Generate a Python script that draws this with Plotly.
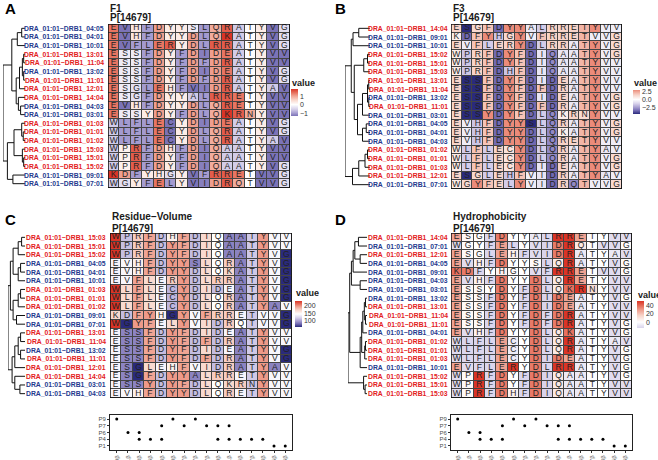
import plotly.graph_objects as go

W, H = 658, 460

# ---------------- data ----------------
POSITIONS = ["9β", "11β", "13β", "26β", "28β", "30β", "47β", "57β",
             "67β", "70β", "71β", "74β", "77β", "78β", "85β", "86β"]

ALLELE_SEQ = {
    "04:05": "EVHFDYYSLQRATYVG",
    "04:01": "EVHFDYYDLQKATYVG",
    "10:01": "EVFLERYDLRRATYVG",
    "13:01": "ESSFDYFDIDEATYVV",
    "11:04": "ESSFDYFDFDRATYVV",
    "13:02": "ESSFDYFDIDEATYVG",
    "11:01": "ESSFDYFDFDRATYVG",
    "12:01": "ESGLEHFVIDRATYAV",
    "14:04": "ESGFDYYALRRETYVV",
    "04:03": "EVHFDYYDLQRETYVV",
    "03:01": "ESSYDYFDLQKRNYVV",
    "01:03": "WLFLECYDIDEATYVG",
    "01:01": "WLFLECYDLQRATYVG",
    "01:02": "WLFLECYDLQRATYAV",
    "15:03": "WPRFDHFDIQAATYVV",
    "15:01": "WPRFDYFDIQAATYVV",
    "15:02": "WPRFDYFDIQAATYVG",
    "09:01": "KDFYHGYVFRRETVVG",
    "07:01": "WGYFELYVIDRQTVVG",
}
RED_ALLELES = ["13:01", "11:04", "11:01", "12:01", "14:04", "01:03", "01:01",
               "01:02", "15:03", "15:01", "15:02"]

F1 = {"A": -0.591, "C": -1.343, "D": 1.050, "E": 1.357, "F": -1.006, "G": -0.384,
      "H": 0.336, "I": -1.239, "K": 1.831, "L": -1.019, "N": 0.945, "P": 0.189,
      "Q": 0.931, "R": 1.538, "S": -0.228, "T": -0.032, "V": -1.337, "W": -0.595,
      "Y": 0.260}
F3 = {"A": -0.733, "C": 1.0, "D": -3.656, "E": 1.477, "F": 1.891, "G": 1.330,
      "H": -1.673, "I": -0.8, "K": 0.533, "L": -1.505, "N": 1.299, "P": -1.628,
      "Q": -3.005, "R": 1.502, "S": -4.760, "T": 2.213, "V": -0.544, "W": 0.672,
      "Y": 3.097}
VOLUME = {"A": 88.6, "C": 108.5, "D": 111.1, "E": 138.4, "F": 189.9, "G": 60.1,
          "H": 153.2, "I": 166.7, "K": 168.6, "L": 166.7, "N": 114.1, "P": 112.7,
          "Q": 143.8, "R": 173.4, "S": 89.0, "T": 116.1, "V": 140.0, "W": 227.8,
          "Y": 193.6}
HYDRO = {"A": -7, "C": -6, "D": 36, "E": 28, "F": -13, "G": 1, "H": 5, "I": -14,
         "K": 38, "L": -13, "N": 12, "P": 2, "Q": 8, "R": 50, "S": 2, "T": -1,
         "V": -11, "W": -12, "Y": 0}

ORDER_A = ["04:05", "04:01", "10:01", "13:01", "11:04", "13:02", "11:01", "12:01",
           "14:04", "04:03", "03:01", "01:03", "01:01", "01:02", "15:03", "15:01",
           "15:02", "09:01", "07:01"]
ORDER_B = ["14:04", "09:01", "10:01", "15:02", "15:01", "15:03", "13:01", "11:04",
           "13:02", "11:01", "03:01", "04:05", "04:01", "04:03", "01:02", "01:01",
           "01:03", "12:01", "07:01"]
ORDER_C = ["15:03", "15:01", "15:02", "04:05", "04:01", "10:01", "01:03", "01:01",
           "01:02", "09:01", "07:01", "13:01", "11:04", "13:02", "11:01", "12:01",
           "14:04", "03:01", "04:03"]
ORDER_D = ["14:04", "07:01", "12:01", "04:05", "09:01", "04:03", "03:01", "13:02",
           "13:01", "11:04", "11:01", "04:01", "01:02", "01:01", "01:03", "10:01",
           "15:02", "15:01", "15:03"]

# dendrograms: [height, left, right], leaves = row index
TREE_A = [10, [6.0, [3.5, [1.5, 0, 1], 2],
               [4.0, [2.5, [1.2, [0.6, 3, 4], [0.6, 5, 6]], 7],
                [3.0, 8, [2.0, 9, 10]]]],
          [8.0, [5.0, [1.5, 11, [0.8, 12, 13]], [1.2, 14, [0.6, 15, 16]]],
           [5.5, 17, 18]]]
TREE_B = [10, [7.5, [6.8, [4.5, 0, 1], 2],
               [6.3, [2.5, [1.0, 3, 4], 5],
                [5.0, [3.0, [1.0, [0.5, 6, 7], [0.5, 8, 9]], 10],
                 [3.0, [1.5, 11, 12], 13]]]],
          [7.0, [4.5, [2.0, [1.0, 14, 15], 16], 17], 18]]
TREE_C = [10, [8.6, [7.0, [4.0, [2.0, 0, 1], 2], [4.0, [2.6, 3, 4], 5]],
               [7.0, [4.0, [2.6, 6, 7], 8], [5.0, 9, 10]]],
          [7.6, [6.0, [4.0, [2.6, 11, 12], [2.6, 13, 14]], 15],
           [6.0, 16, [3.0, 17, 18]]]]
TREE_D = [10, [9.1, [8.2, [7.3, [6.4, [4.5, 0, 1], [3.6, 2, 3]], 4], [3.6, 5, 6]],
               [3.6, [2.8, [2.2, [1.4, [0.8, 7, 8], [0.8, 9, 10]], 11],
                      [1.2, [0.8, 12, 13], 14]], 15]],
          [1.8, 16, [1.0, 17, 18]]]

POCKETS = ["P1", "P4", "P6", "P7", "P9"]
POCKET_POS = ["9β", "11β", "13β", "13β", "26β", "28β", "28β", "30β", "47β", "57β",
              "67β", "70β", "70β", "71β", "71β", "74β", "77β", "78β", "85β", "86β"]
POCKET_OF = ["P9", "P6", "P6", "P4", "P4", "P7", "P4", "P9", "P7", "P9",
             "P7", "P7", "P4", "P7", "P4", "P4", "P4", "P4", "P1", "P1"]

# ---------------- style ----------------
# colour ramps from white (t=0) to the extreme (t=1), mimicking a Lab-space blend
LOW_RAMP = [(0.0, (255, 255, 255)), (0.3, (214, 208, 234)), (0.55, (165, 156, 208)),
            (0.75, (118, 110, 180)), (1.0, (42, 42, 124))]
HIGH_RAMP = [(0.0, (255, 255, 255)), (0.3, (248, 214, 204)), (0.55, (240, 164, 148)),
             (0.75, (231, 115, 96)), (1.0, (218, 52, 38))]
RED_TXT, BLUE_TXT = "#e3201c", "#253a8e"
FONT = "Liberation Sans"


def xd(a, b):
    return [a / W, b / W]


def yd(a, b):
    return [1 - b / H, 1 - a / H]


def ramp(r, t):
    t = min(max(t, 0.0), 1.0)
    for (t0, c0), (t1, c1) in zip(r[:-1], r[1:]):
        if t <= t1:
            f = (t - t0) / (t1 - t0)
            return "rgb(%d,%d,%d)" % tuple(round(a + (b - a) * f) for a, b in zip(c0, c1))
    return "rgb(%d,%d,%d)" % r[-1][1]


def scale_for(vmin, vmax, mid):
    M = max(vmax - mid, mid - vmin)
    stops = []
    n = 16
    for i in range(n + 1):
        v = vmin + (mid - vmin) * i / n
        stops.append([(v - vmin) / (vmax - vmin), ramp(LOW_RAMP, (mid - v) / M)])
    for i in range(1, n + 1):
        v = mid + (vmax - mid) * i / n
        stops.append([(v - vmin) / (vmax - vmin), ramp(HIGH_RAMP, (v - mid) / M)])
    stops[-1][0] = 1.0
    stops[0][0] = 0.0
    return stops


def dendro(tree):
    xs, ys = [], []

    def rec(node):
        if isinstance(node, int):
            return float(node), 0.0
        h, l, r = node
        yl, hl = rec(l)
        yr, hr = rec(r)
        xs.extend([hl, h, h, hr, None])
        ys.extend([yl, yl, yr, yr, None])
        return (yl + yr) / 2, h

    rec(tree)
    return xs, ys


panels = [
    dict(letter="A", lx=3, ly=8, title="F1", ty=(8.5, 17.5), prop=F1, order=ORDER_A,
         tree=TREE_A, heat=(108, 290, 24, 188), dend=(3, 25), mid=0,
         cb=(291, 89, 116), vy=83, tv=[1, 0, -1], tt=["1", "0", "−1"], dots=None),
    dict(letter="B", lx=333, ly=8, title="F3", ty=(8.5, 17.5), prop=F3, order=ORDER_B,
         tree=TREE_B, heat=(451, 622, 24, 189), dend=(345, 370), mid=0,
         cb=(633, 90, 114), vy=83, tv=[2.5, 0, -2.5], tt=["2.5", "0.0", "−2.5"], dots=None),
    dict(letter="C", lx=3, ly=219, title="Residue−Volume", ty=(216.5, 228.5), prop=VOLUME,
         order=ORDER_C, tree=TREE_C, heat=(110, 292, 233, 398), dend=(8, 25),
         mid=(min(VOLUME.values()) + max(VOLUME.values())) / 2,
         cb=(295, 301, 327), vy=293, tv=[200, 150, 100], tt=["200", "150", "100"],
         dots=(110, 292, 415, 450)),
    dict(letter="D", lx=333, ly=219, title="Hydrophobicity", ty=(216.5, 228.5), prop=HYDRO,
         order=ORDER_D, tree=TREE_D, heat=(451, 632, 233, 398), dend=(348, 367), mid=0,
         cb=(637, 301, 328), vy=295, tv=[40, 20, 0], tt=["40", "20", "0"],
         dots=(451, 632, 415, 450)),
]

fig = go.Figure()
layout = {}
annotations = []
shapes = []
ax = 0


def new_axes(xdom, ydom, xr, yr, visible=False):
    global ax
    ax += 1
    s = "" if ax == 1 else str(ax)
    layout["xaxis" + s] = dict(domain=xdom, range=xr, anchor="y" + s, visible=visible,
                               fixedrange=True, showgrid=False, zeroline=False)
    layout["yaxis" + s] = dict(domain=ydom, range=yr, anchor="x" + s, visible=visible,
                               fixedrange=True, showgrid=False, zeroline=False)
    return "x" + s, "y" + s


for p in panels:
    x0, x1, y0, y1 = p["heat"]
    nrow, ncol = len(p["order"]), len(POSITIONS)
    rowh = (y1 - y0) / nrow
    xa, ya = new_axes(xd(x0, x1), yd(y0, y1), [-0.5, ncol - 0.5], [nrow - 0.5, -0.5])
    seqs = [ALLELE_SEQ[a] for a in p["order"]]
    z = [[p["prop"][c] for c in s] for s in seqs]
    used = [v for row in z for v in row]
    vmin, vmax = min(used), max(used)
    cb_x, cb_top, cb_bot = p["cb"]
    fig.add_trace(go.Heatmap(
        z=z, x=list(range(ncol)), y=list(range(nrow)), xaxis=xa, yaxis=ya,
        zmin=vmin, zmax=vmax, colorscale=scale_for(vmin, vmax, p["mid"]),
        xgap=1, ygap=1, hoverinfo="skip",
        colorbar=dict(x=cb_x / W, xanchor="left", y=1 - cb_top / H, yanchor="top",
                      len=cb_bot - cb_top, lenmode="pixels", thickness=7,
                      thicknessmode="pixels", xpad=0, ypad=0, outlinewidth=0,
                      tickvals=p["tv"], ticktext=p["tt"], ticks="",
                      tickfont=dict(size=7, family=FONT, color="#333"))))
    tx, ty_, tt = [], [], []
    for r, s in enumerate(seqs):
        for c, ch in enumerate(s):
            tx.append(c)
            ty_.append(r)
            tt.append(ch)
    fig.add_trace(go.Scatter(x=tx, y=ty_, text=tt, mode="text", xaxis=xa, yaxis=ya,
                             textfont=dict(size=8.5, family=FONT, color="#222"),
                             hoverinfo="skip", showlegend=False))
    shapes.append(dict(type="rect", xref=xa, yref=ya, x0=-0.5, x1=ncol - 0.5,
                       y0=-0.5, y1=nrow - 0.5, fillcolor="#444", line=dict(width=0),
                       layer="below"))
    shapes.append(dict(type="rect", xref=xa, yref=ya, x0=-0.5, x1=ncol - 0.5,
                       y0=-0.5, y1=nrow - 0.5, line=dict(color="#111", width=1.5),
                       layer="above"))
    # row labels
    for r, a in enumerate(p["order"]):
        annotations.append(dict(
            text="DRA_01:01−DRB1_" + a, x=(x0 - 1.5) / W, y=1 - (y0 + (r + 0.5) * rowh) / H,
            xref="paper", yref="paper", xanchor="right", yanchor="middle", showarrow=False,
            font=dict(size=6.8, family=FONT, weight="bold",
                      color=RED_TXT if a in RED_ALLELES else BLUE_TXT)))
    # titles
    annotations.append(dict(text=p["title"], x=x0 / W, y=1 - p["ty"][0] / H, xref="paper",
                            yref="paper", xanchor="left", yanchor="middle", showarrow=False,
                            font=dict(size=10, family=FONT, weight="bold", color="#1a1a1a")))
    annotations.append(dict(text="P[14679]", x=x0 / W, y=1 - p["ty"][1] / H, xref="paper",
                            yref="paper", xanchor="left", yanchor="middle", showarrow=False,
                            font=dict(size=10, family=FONT, weight="bold", color="#1a1a1a")))
    annotations.append(dict(text=p["letter"], x=p["lx"] / W, y=1 - p["ly"] / H, xref="paper",
                            yref="paper", xanchor="left", yanchor="middle", showarrow=False,
                            font=dict(size=15, family=FONT, weight="bold", color="#000")))
    annotations.append(dict(text="value", x=(cb_x - 1) / W, y=1 - p["vy"] / H, xref="paper",
                            yref="paper", xanchor="left", yanchor="middle", showarrow=False,
                            font=dict(size=9, family=FONT, weight="bold", color="#1a1a1a")))
    # dendrogram
    d0, d1 = p["dend"]
    dx, dy = new_axes(xd(d0, d1), yd(y0, y1), [10, 0], [nrow - 0.5, -0.5])
    lx, ly = dendro(p["tree"])
    fig.add_trace(go.Scatter(x=lx, y=ly, mode="lines", xaxis=dx, yaxis=dy,
                             line=dict(color="#111", width=1), cliponaxis=False,
                             hoverinfo="skip", showlegend=False))
    # pocket dot plot
    if p["dots"]:
        a0, a1, b0, b1 = p["dots"]
        qx, qy = new_axes(xd(a0, a1), yd(b0, b1), [-0.6, ncol - 0.4], [0.4, 5.6], visible=True)
        k = qx[1:]
        for axn, vals, txt in (("xaxis", list(range(ncol)), POSITIONS),
                               ("yaxis", [1, 2, 3, 4, 5], POCKETS)):
            layout[axn + k].update(tickvals=vals, ticktext=txt, ticks="outside", ticklen=2,
                                   tickcolor="#333", tickfont=dict(size=6, family=FONT,
                                                                   color="#4d4d4d"),
                                   showline=True, mirror=True, linecolor="#222", linewidth=1)
        layout["xaxis" + k].update(tickangle=-90)
        fig.add_trace(go.Scatter(
            x=[POSITIONS.index(v) for v in POCKET_POS],
            y=[POCKETS.index(v) + 1 for v in POCKET_OF],
            mode="markers", xaxis=qx, yaxis=qy, marker=dict(color="#000", size=3),
            hoverinfo="skip", showlegend=False))

fig.update_layout(**layout)
fig.update_layout(width=W, height=H,
                  margin=dict(l=0, r=0, t=0, b=0, autoexpand=False),
                  paper_bgcolor="white", plot_bgcolor="white", showlegend=False,
                  annotations=annotations, shapes=shapes,
                  font=dict(family=FONT))
fig.write_html("out.html", config={"displayModeBar": False, "staticPlot": True},
               post_script="document.body.style.margin='0';document.body.style.overflow='hidden';")
